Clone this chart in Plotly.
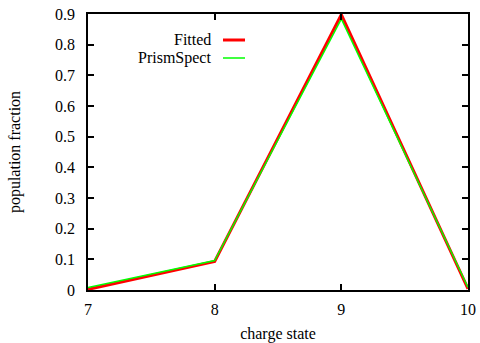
import plotly.graph_objects as go

charge_state = [7, 8, 9, 10]
fitted = [0.002, 0.093, 0.898, 0.004]
prismspect = [0.008, 0.096, 0.884, 0.008]
series_names = ["Fitted", "PrismSpect"]
x_ticks = [7, 8, 9, 10]
y_ticks = [0, 0.1, 0.2, 0.3, 0.4, 0.5, 0.6, 0.7, 0.8, 0.9]
y_tick_labels = ["0", "0.1", "0.2", "0.3", "0.4", "0.5", "0.6", "0.7", "0.8", "0.9"]

FONT = "Liberation Serif, Times New Roman, serif"
FS = 16

fig = go.Figure()
fig.add_trace(go.Scatter(x=charge_state, y=fitted, mode="lines", name=series_names[0],
                         line=dict(color="#ff0000", width=3)))
fig.add_trace(go.Scatter(x=charge_state, y=prismspect, mode="lines", name=series_names[1],
                         line=dict(color="#00ff00", width=1.5)))

axis_common = dict(showgrid=False, zeroline=False, showline=True, linecolor="black",
                   linewidth=1.5, mirror="ticks", ticks="inside", ticklen=6,
                   tickcolor="black", tickwidth=1.5, automargin=False,
                   tickfont=dict(family=FONT, size=FS, color="black"))

fig.update_xaxes(range=[7, 10], tickvals=x_ticks, ticktext=[str(v) for v in x_ticks],
                 ticklabelstandoff=4,
                 title=dict(text="charge state", font=dict(family=FONT, size=FS, color="black"), standoff=12),
                 **axis_common)
fig.update_yaxes(range=[0, 0.9], tickvals=y_ticks, ticktext=y_tick_labels,
                 ticklabelstandoff=8,
                 title=dict(text="population fraction", font=dict(family=FONT, size=FS, color="black"), standoff=30),
                 **axis_common)

# manual legend (gnuplot style: text right-aligned, sample line on the right)
W, H = 480, 343
ml, mr, mt, mb = 88, 12, 14, 53
pw, ph = W - ml - mr, H - mt - mb

def px(x):
    return (x - ml) / pw

def py(y):
    return 1 - (y - mt) / ph

legend_rows = [(series_names[0], "#ff0000", 3, 40), (series_names[1], "#00ff00", 1.5, 58)]
for name, color, w, yy in legend_rows:
    fig.add_annotation(xref="paper", yref="paper", x=px(213), y=py(yy), text=name,
                       showarrow=False, xanchor="right", yanchor="middle",
                       font=dict(family=FONT, size=FS, color="black"))
    fig.add_shape(type="line", xref="paper", yref="paper", x0=px(223), x1=px(245),
                  y0=py(yy), y1=py(yy), line=dict(color=color, width=w))

fig.update_layout(width=W, height=H, margin=dict(l=ml, r=mr, t=mt, b=mb),
                  paper_bgcolor="white", plot_bgcolor="white", showlegend=False,
                  font=dict(family=FONT, size=FS, color="black"))

fig.write_html("out.html", config={"displayModeBar": False},
               post_script="document.body.style.margin='0px';")
